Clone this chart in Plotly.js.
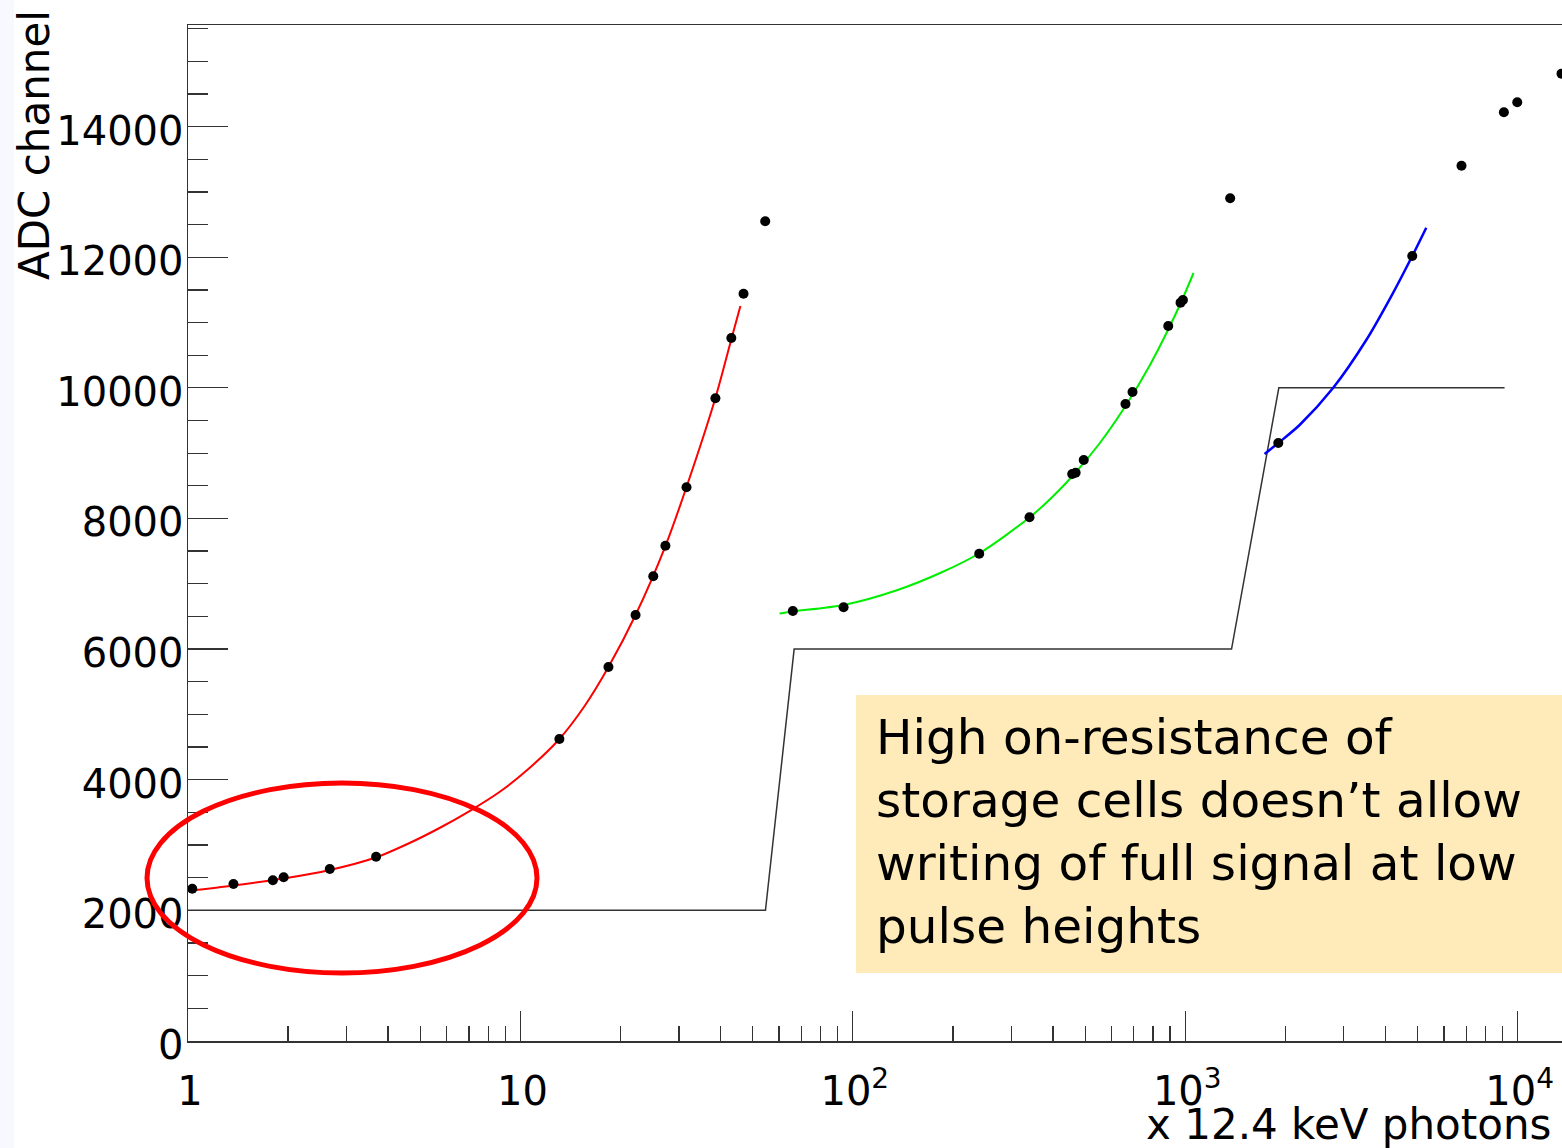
<!DOCTYPE html>
<html><head><meta charset="utf-8">
<script src="https://cdn.plot.ly/plotly-3.0.1.min.js"></script>
<style>html,body{margin:0;padding:0;overflow:hidden;background:#fff}</style>
</head><body>
<div id="chart" style="width:1600px;height:1148px"></div>
<script>
// measured points (number of 12.4 keV photons, ADC channel)
const dotsX = [1.03, 1.37, 1.80, 1.94, 2.67, 3.68, 13.1, 18.4, 22.2, 25.1, 27.3, 31.6, 38.6, 43.1, 46.9, 54.5,
               66.0, 93.8, 240, 340, 457, 468, 495, 661, 694, 889, 968, 984, 1365,
               1905, 4818, 6777, 9090, 9972, 13550];
const dotsY = [2332, 2404, 2460, 2506, 2633, 2822, 4624, 5726, 6522, 7115, 7583, 8477, 9840, 10763, 11441, 12550,
               6583, 6640, 7461, 8018, 8681, 8701, 8895, 9753, 9936, 10947, 11304, 11345, 12902,
               9155, 12018, 13401, 14219, 14372, 14810];

// gain-stage fit curves
const redX = [1.0, 1.37, 1.94, 2.67, 3.67, 4.64, 5.71, 7.03, 8.65, 10.65, 13.1, 15.6, 18.4, 22.2, 27.3, 31.6, 38.6, 43.2, 45.9];
const redY = [2297, 2381, 2488, 2618, 2809, 3031, 3261, 3521, 3812, 4180, 4624, 5129, 5726, 6522, 7578, 8482, 9844, 10763, 11253];

const greenX = [60.2, 65.9, 93.8, 135, 186, 241, 340, 399, 458, 552, 661, 781, 891, 975, 1059];
const greenY = [6545, 6576, 6675, 6897, 7180, 7471, 8015, 8333, 8650, 9148, 9722, 10339, 10904, 11329, 11758];

const blueX = [1732, 1905, 2208, 2780, 3504, 4212, 4818, 5309];
const blueY = [8987, 9155, 9431, 9993, 10732, 11447, 12018, 12452];

// gain switching step outline
const stepX = [1, 54.6, 66.6, 1378, 1912, 9133];
const stepY = [2000, 2000, 6000, 6000, 10000, 10000];

// tick labels
const xTickVals = [1, 10, 100, 1000, 10000];
const xTickText = ['1', '10', '10<sup>2</sup>', '10<sup>3</sup>', '10<sup>4</sup>'];
const yTickVals = [0, 2000, 4000, 6000, 8000, 10000, 12000, 14000];
const yTickText = ['0', '2000', '4000', '6000', '8000', '10000', '12000', '14000'];

const yTitle = 'ADC channel';
const xTitle = 'x 12.4 keV photons';
const noteText = 'High on-resistance of<br>storage cells doesn\u2019t allow<br>writing of full signal at low<br>pulse heights';

// layout geometry (pixels)
const FIG_W = 1600, FIG_H = 1148;
const L = 188, R = 1590, T = 25, B = 1041;
const PW = R - L, PH = B - T;
const px = x => (x - L) / PW;
const py = y => (B - y) / PH;

const font = 'DejaVu Sans, Verdana, sans-serif';

const traces = [
  {x: stepX, y: stepY, mode: 'lines', line: {color: '#333', width: 1.5}, hoverinfo: 'skip'},
  {x: redX, y: redY, mode: 'lines', line: {color: '#ff0000', width: 2, shape: 'spline', smoothing: 0.8}},
  {x: greenX, y: greenY, mode: 'lines', line: {color: '#00ee00', width: 2, shape: 'spline', smoothing: 0.8}},
  {x: blueX, y: blueY, mode: 'lines', line: {color: '#0000ff', width: 2.5, shape: 'spline', smoothing: 0.8}},
  {x: dotsX, y: dotsY, mode: 'markers', marker: {color: '#000', size: 10}}
];

const layout = {
  width: FIG_W, height: FIG_H,
  margin: {l: L, r: FIG_W - R, t: T, b: FIG_H - B},
  paper_bgcolor: '#fff', plot_bgcolor: '#fff',
  showlegend: false,
  font: {family: font, color: '#000'},
  xaxis: {
    type: 'log', range: [0, 4.2176],
    showgrid: false, zeroline: false,
    showline: true, linecolor: '#333', linewidth: 1.5, mirror: true,
    ticks: 'inside', ticklen: 30, tickwidth: 1.3, tickcolor: '#333',
    tickmode: 'array', tickvals: xTickVals, ticktext: xTickText,
    tickfont: {family: font, size: 40, color: '#000'},
    ticklabelstandoff: 14, ticklabelshift: 2,
    minor: {dtick: 'D1', ticks: 'inside', ticklen: 15, tickwidth: 1.3, tickcolor: '#333', showgrid: false}
  },
  yaxis: {
    range: [0, 15555],
    showgrid: false, zeroline: false,
    showline: true, linecolor: '#333', linewidth: 1.5, mirror: true,
    ticks: 'inside', ticklen: 40, tickwidth: 1.3, tickcolor: '#333',
    tickmode: 'array', tickvals: yTickVals, ticktext: yTickText,
    tickfont: {family: font, size: 40, color: '#000'},
    ticklabelstandoff: -5, ticklabelshift: 4,
    minor: {dtick: 500, tick0: 0, ticks: 'inside', ticklen: 20, tickwidth: 1.3, tickcolor: '#333', showgrid: false}
  },
  shapes: [
    {type: 'rect', xref: 'paper', yref: 'paper', x0: px(0), x1: px(14), y0: py(1148), y1: py(0),
     fillcolor: '#f6f9fd', line: {width: 0}, layer: 'below'},
    {type: 'rect', xref: 'paper', yref: 'paper', x0: px(856), x1: px(1620), y0: py(973), y1: py(695),
     fillcolor: '#feebb9', line: {width: 0}, layer: 'above'},
    {type: 'circle', xref: 'paper', yref: 'paper', x0: px(147), x1: px(537), y0: py(973), y1: py(783),
     line: {color: '#ff0000', width: 5}, layer: 'above'}
  ],
  annotations: [
    {xref: 'paper', yref: 'paper', x: px(34), y: py(8), xanchor: 'center', yanchor: 'top',
     textangle: -90, text: yTitle, showarrow: false, font: {family: font, size: 42, color: '#000'}},
    {xref: 'paper', yref: 'paper', x: px(1553), y: py(1124), xanchor: 'right', yanchor: 'middle',
     text: xTitle, showarrow: false, font: {family: font, size: 42, color: '#000'}},
    {xref: 'paper', yref: 'paper', x: px(875), y: py(708), xanchor: 'left', yanchor: 'top', align: 'left',
     text: noteText, showarrow: false, borderpad: 0, font: {family: font, size: 48.5, color: '#000'}}
  ]
};

Plotly.newPlot('chart', traces, layout, {staticPlot: true, displayModeBar: false});
</script>
</body></html>
